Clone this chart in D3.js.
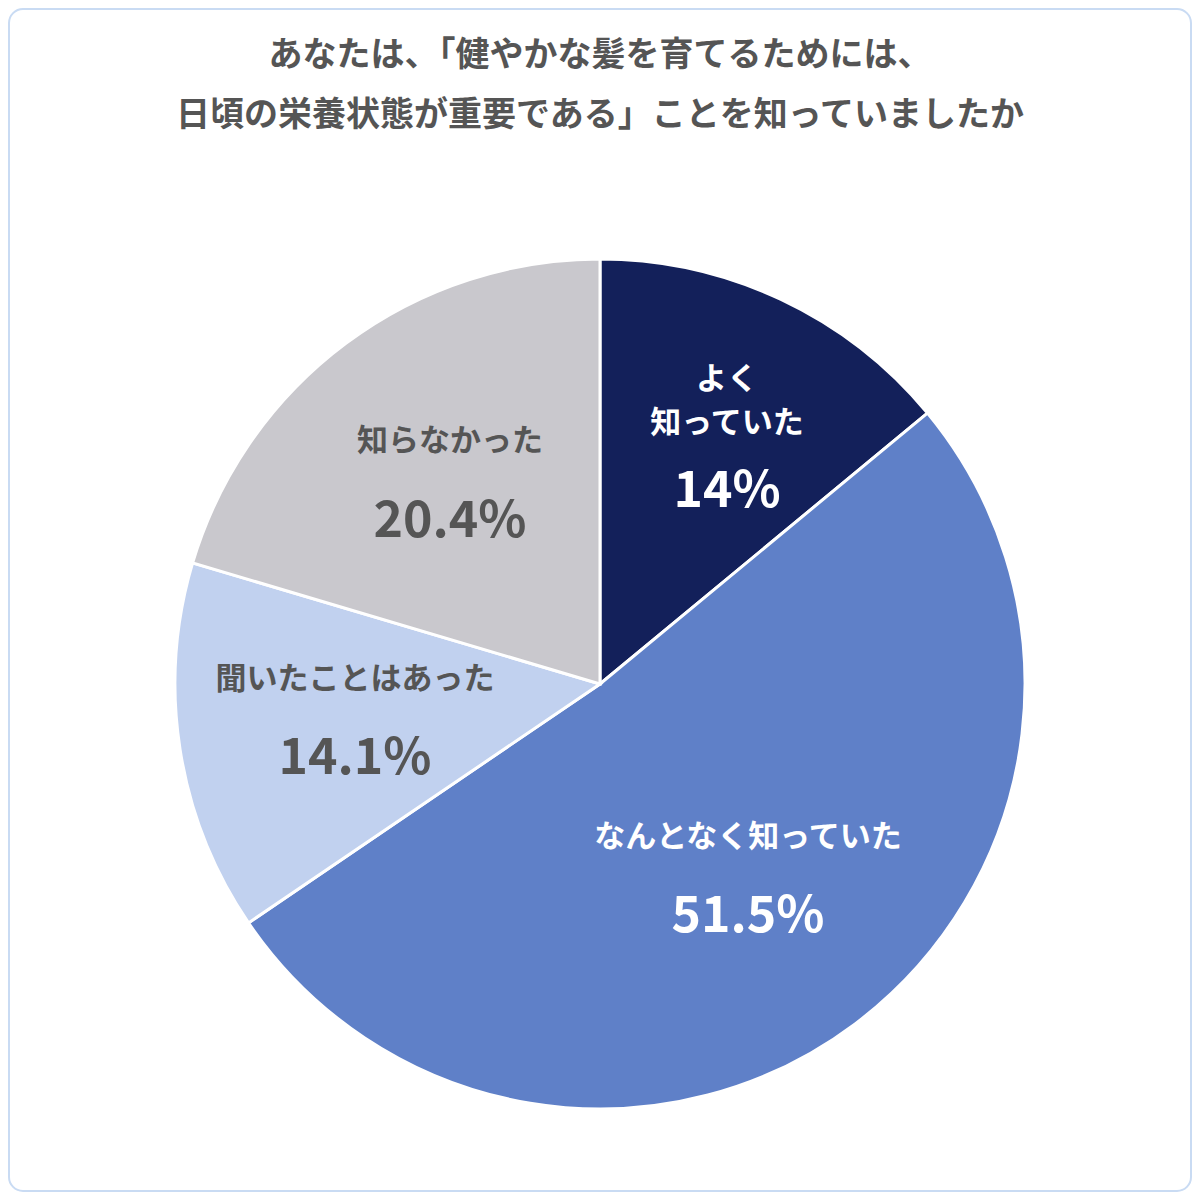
<!DOCTYPE html>
<html><head><meta charset="utf-8">
<script src="https://cdn.jsdelivr.net/npm/d3@7"></script>
<style>body{margin:0;background:#fff}</style></head>
<body><svg id="c" width="1200" height="1200"></svg>
<script>
const categories=["よく知っていた","なんとなく知っていた","聞いたことはあった","知らなかった"];
const values=[14,51.5,14.1,20.4];
const valueLabels=["14%","51.5%","14.1%","20.4%"];
const labelLines=[["よく","知っていた"],["なんとなく知っていた"],["聞いたことはあった"],["知らなかった"]];
const colors=["#13205a","#5f80c8","#c1d1ef","#c9c8cd"];
const textColors=["#fff","#fff","#555","#555"];
const labelPos=[[727,378,490],[748,836,915],[355,678,757],[450,440,520]];
const title=["あなたは、「健やかな髪を育てるためには、","日頃の栄養状態が重要である」ことを知っていましたか"];

const svg=d3.select("#c");
const F="'Noto Sans CJK JP','Noto Sans',sans-serif";
svg.append("rect").attr("x",9).attr("y",9).attr("width",1182).attr("height",1182).attr("rx",14)
 .attr("fill","#fff").attr("stroke","#c9dbf3").attr("stroke-width",2);
svg.selectAll("text.t").data(title).join("text").attr("x",600).attr("y",(d,i)=>66+i*60)
 .attr("text-anchor","middle").attr("font-family",F).attr("font-weight","bold").attr("font-size",34)
 .attr("fill","#555").text(d=>d);
const pie=d3.pie().sort(null).value(d=>d)(values);
const arc=d3.arc().innerRadius(0).outerRadius(425);
const g=svg.append("g").attr("transform","translate(600,684)");
g.selectAll("path").data(pie).join("path").attr("d",arc).attr("fill",(d,i)=>colors[i])
 .attr("stroke","#fff").attr("stroke-width",3);
labelLines.forEach((lines,i)=>{
 const [x,y,py]=labelPos[i];
 lines.forEach((l,j)=>svg.append("text").attr("x",x).attr("y",y+j*44+11).attr("text-anchor","middle")
  .attr("font-family",F).attr("font-weight","bold").attr("font-size",31).attr("fill",textColors[i]).text(l));
 svg.append("text").attr("x",x).attr("y",py+17).attr("text-anchor","middle")
  .attr("font-family",F).attr("font-weight","bold").attr("font-size",50).attr("fill",textColors[i]).text(valueLabels[i]);
});
</script></body></html>
